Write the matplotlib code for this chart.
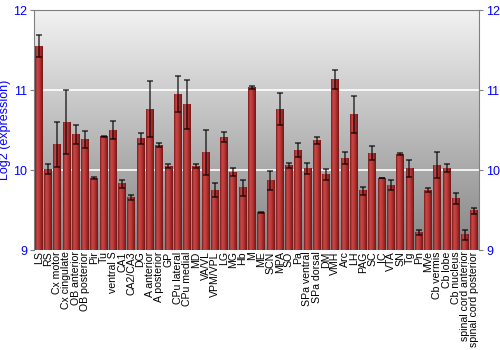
'''
Log2 expression per brain region, bar chart with error bars
'''

import matplotlib
matplotlib.use("Agg")
import matplotlib.pyplot as plt, numpy as np
from matplotlib.colors import LinearSegmentedColormap

regions = [
    "LS", "RS", "Cx motor", "Cx cingulate", "OB anterior", "OB posterior", "Pir", "Tu",
    "ventral S", "CA1", "CA2/CA3", "DG", "A anterior", "A posterior", "GP", "CPu lateral",
    "CPu medial", "MD", "VA/VL", "VPM/VPL", "LG", "MG", "Hb", "M", "ME", "SCN", "MPA",
    "SO", "Pa", "SPa ventral", "SPa dorsal", "DM", "VMH", "Arc", "LH", "PAG", "SC", "IC",
    "VTA", "SN", "Tg", "Pn", "MVe", "Cb vermis", "Cb lobe", "Cb nucleus",
    "spinal cord anterior", "spinal cord posterior",
]
expression = [
    11.55, 10.01, 10.32, 10.60, 10.44, 10.38, 9.90, 10.42,
    10.50, 9.83, 9.66, 10.39, 10.76, 10.31, 10.05, 10.95,
    10.82, 10.05, 10.22, 9.75, 10.41, 9.97, 9.78, 11.03, 9.47, 9.87, 10.76,
    10.06, 10.25, 10.02, 10.37, 9.94, 11.13, 10.15, 10.69, 9.74, 10.21, 9.90,
    9.81, 10.20, 10.02, 9.22, 9.75, 10.06, 10.02, 9.64,
    9.19, 9.49,
]
error = [
    0.135, 0.065, 0.28, 0.40, 0.12, 0.11, 0.015, 0.006,
    0.11, 0.05, 0.03, 0.07, 0.35, 0.025, 0.02, 0.22,
    0.31, 0.02, 0.28, 0.09, 0.06, 0.05, 0.10, 0.02, 0.01, 0.12, 0.20,
    0.03, 0.09, 0.065, 0.04, 0.07, 0.12, 0.07, 0.23, 0.05, 0.085, 0.006,
    0.06, 0.012, 0.11, 0.033, 0.02, 0.165, 0.05, 0.07,
    0.06, 0.04,
]
y_ticks = [9, 10, 11, 12]

plt.rcParams["font.family"] = ["Liberation Sans", "DejaVu Sans"]
blue = "#0000ff"
frame_gray = "#808080"

fig = plt.figure(figsize=(5, 3.5), dpi=100)
ax = fig.add_axes([0.068, 0.2857, 0.89, 0.6857])
x = np.arange(len(regions))
ymin, ymax = y_ticks[0], y_ticks[-1]
xlo, xhi = -0.5, len(regions) - 0.5

# vertical gray gradient behind everything (row 0 = top = light)
bg = LinearSegmentedColormap.from_list("bg", ["#f2f2f2", "#858585"])
ax.imshow(np.linspace(0, 1, 256).reshape(-1, 1), cmap=bg, aspect="auto",
          extent=[xlo, xhi, ymin, ymax], zorder=0)

for yv in y_ticks[1:-1]:
    ax.axhline(yv, color="white", lw=1.2, zorder=1)

# each bar is a small horizontal red gradient
bar_cmap = LinearSegmentedColormap.from_list(
    "bar", ["#7a1c1c", "#c84848", "#c03c3c", "#a02828", "#701818"])
grad = np.linspace(0, 1, 32).reshape(1, -1)
w = 0.84
for xi, val in zip(x, expression):
    ax.imshow(grad, cmap=bar_cmap, aspect="auto", interpolation="bilinear",
              extent=[xi - w / 2, xi + w / 2, ymin, val], zorder=2)

ax.errorbar(x, expression, yerr=error, fmt="none", ecolor="black", elinewidth=1.1,
            capsize=2.2, capthick=1.1, alpha=0.75, zorder=3)

ax.set_xlim(xlo, xhi)
ax.set_ylim(ymin, ymax)
ax.set_xticks(x)
ax.set_xticklabels(regions, rotation=90, fontsize=7.6)
ax.tick_params(axis="x", length=0, pad=1)
ax.set_yticks(y_ticks)
ax.tick_params(axis="y", colors=frame_gray, labelcolor=blue, labelsize=9,
               length=3, pad=2, right=True, labelright=True, direction="out")
ax.set_ylabel("Log2 (expression)", color=blue, fontsize=9)
ax.yaxis.set_label_coords(-0.052, 0.5)

for side in ["left", "top", "right"]:
    ax.spines[side].set_color(frame_gray)
ax.spines["bottom"].set_visible(False)

fig.savefig("out.png", dpi=100)
